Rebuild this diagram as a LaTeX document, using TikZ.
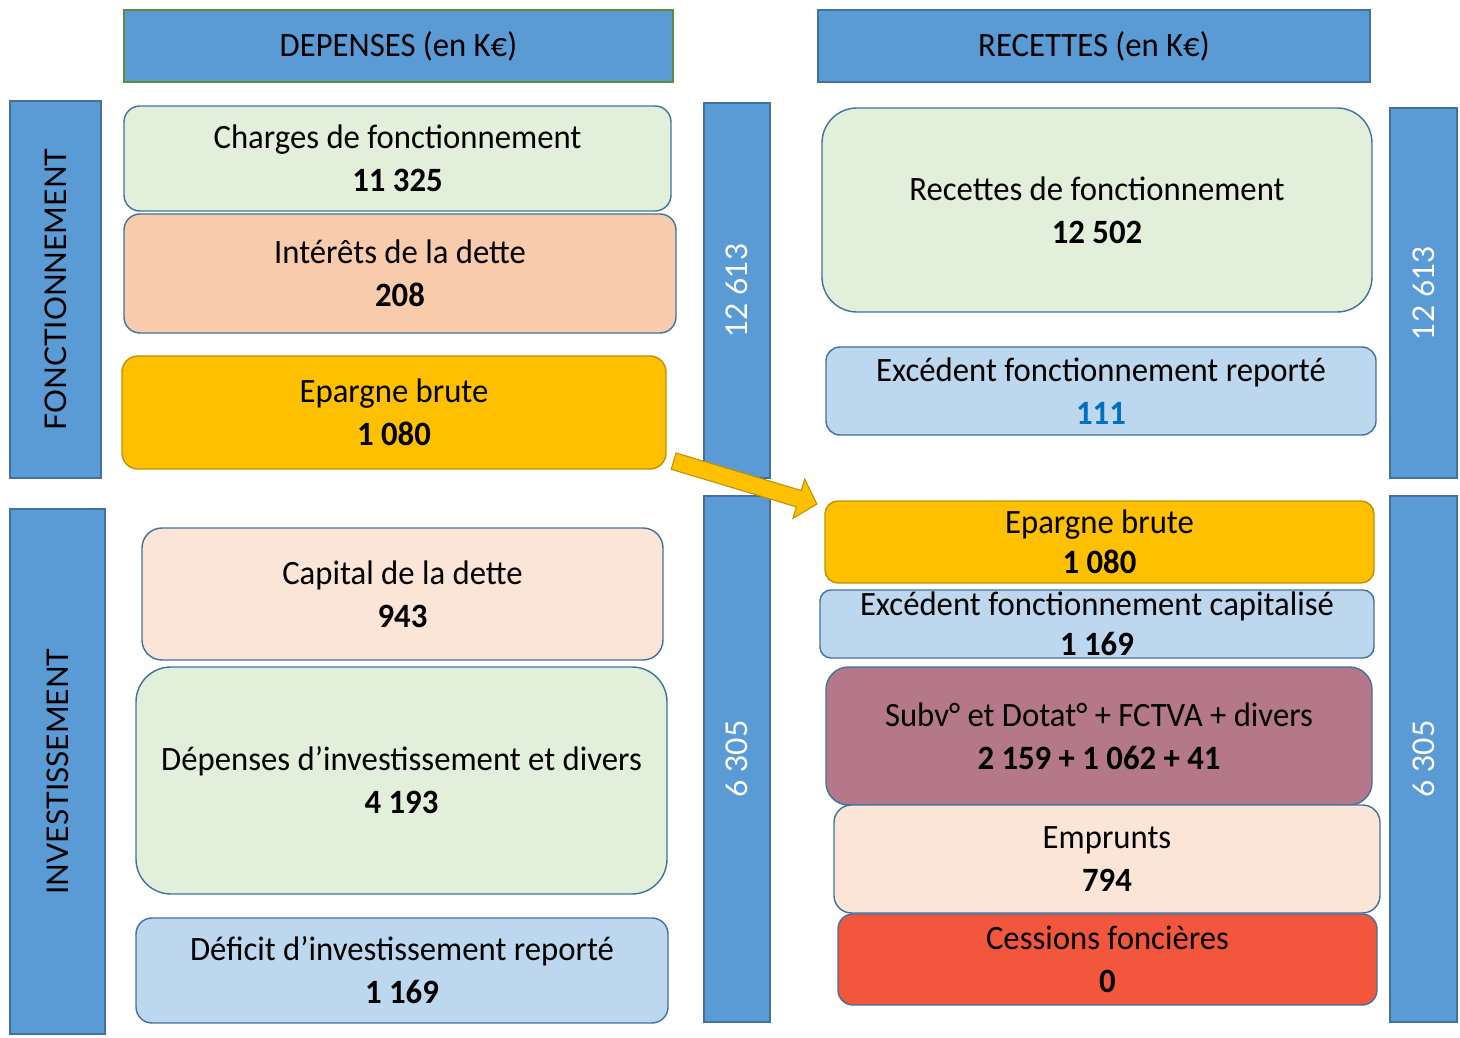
\documentclass[tikz,border=0pt]{standalone}
\usepackage{fontspec}
\setmainfont{Carlito}[FakeStretch=0.96]
\newfontfamily\barfont{Lato}
\usepackage{tikz}
\usetikzlibrary{calc,shapes.arrows}

\definecolor{barblue}{HTML}{5B9BD5}
\definecolor{edgeblue}{HTML}{41719C}
\definecolor{headgreen}{HTML}{5E8E3A}
\definecolor{boxgreen}{HTML}{E2EFDA}
\definecolor{boxsalmon}{HTML}{F8CBAD}
\definecolor{boxpeach}{HTML}{FBE5D6}
\definecolor{boxblue}{HTML}{BDD7EE}
\definecolor{gold}{HTML}{FFC000}
\definecolor{goldedge}{HTML}{BF9000}
\definecolor{mauve}{HTML}{B4788A}
\definecolor{cessred}{HTML}{F2573E}
\definecolor{numblue}{HTML}{0070C0}

\tikzset{
  posteitem/.style={draw=edgeblue, line width=0.8pt, rounded corners=0.32cm,
    align=center, inner sep=0pt, font=\fontsize{19.4}{24.5}\selectfont},
  tightitem/.style={posteitem, font=\fontsize{19.4}{22.5}\selectfont},
  savingitem/.style={posteitem, fill=gold, draw=goldedge},
  headbox/.style={draw=edgeblue, line width=0.8pt, fill=barblue, inner sep=0pt,
    font=\fontsize{19.4}{22}\selectfont},
  sidebar/.style={draw=edgeblue, line width=0.6pt, fill=barblue, inner sep=0pt,
    rotate=90, font=\barfont\fontsize{17}{20}\selectfont},
  totalbar/.style={sidebar, text=white},
  savingarrow/.style={single arrow, fill=gold, draw=goldedge, line width=0.6pt,
    inner sep=0.16cm, single arrow head extend=0.24cm, single arrow tip angle=95}
}

\begin{document}
\begin{tikzpicture}
\useasboundingbox (0,0) rectangle (29.2,-20.76);

% titres
\node[headbox, draw=headgreen, minimum width=10.98cm, minimum height=1.44cm] (depHead) at (7.97,-0.92) {DEPENSES (en K€)};
\node[headbox, minimum width=11.04cm, minimum height=1.44cm] (recHead) at (21.88,-0.92) {RECETTES (en K€)};

% sections
\node[sidebar, minimum width=7.54cm, minimum height=1.82cm] (fonct) at (1.11,-5.79) {FONCTIONNEMENT};
\node[sidebar, minimum width=10.50cm, minimum height=1.90cm] (invest) at (1.15,-15.43) {INVESTISSEMENT};

% totaux
\node[totalbar, minimum width=7.50cm, minimum height=1.32cm] (totFD) at (14.74,-5.81) {12 613};
\node[totalbar, minimum width=10.52cm, minimum height=1.32cm] (totID) at (14.74,-15.18) {6 305};
\node[totalbar, minimum width=7.40cm, minimum height=1.34cm] (totFR) at (28.47,-5.86) {12 613};
\node[totalbar, minimum width=10.52cm, minimum height=1.34cm] (totIR) at (28.47,-15.18) {6 305};

% depenses
\node[posteitem, fill=boxgreen, minimum width=10.94cm, minimum height=2.10cm] (charges) at (7.95,-3.17) {Charges de fonctionnement\\\textbf{11 325}};
\node[posteitem, fill=boxsalmon, minimum width=11.04cm, minimum height=2.38cm] (interets) at (8.00,-5.47) {Intérêts de la dette\\\textbf{208}};
\node[savingitem, minimum width=10.88cm, minimum height=2.26cm] (epargneD) at (7.88,-8.25) {Epargne brute\\\textbf{1 080}};
\node[posteitem, fill=boxpeach, rounded corners=0.4cm, minimum width=10.42cm, minimum height=2.64cm] (capital) at (8.05,-11.88) {Capital de la dette\\\textbf{943}};
\node[posteitem, fill=boxgreen, rounded corners=0.7cm, minimum width=10.62cm, minimum height=4.54cm] (depinv) at (8.03,-15.61) {Dépenses d’investissement et divers\\\textbf{4 193}};
\node[posteitem, fill=boxblue, minimum width=10.64cm, minimum height=2.10cm] (deficit) at (8.04,-19.41) {Déficit d’investissement reporté\\\textbf{1 169}};

% recettes
\node[posteitem, fill=boxgreen, rounded corners=0.7cm, minimum width=11.00cm, minimum height=4.08cm] (recettes) at (21.94,-4.20) {Recettes de fonctionnement\\\textbf{12 502}};
\node[posteitem, fill=boxblue, rounded corners=0.28cm, minimum width=11.00cm, minimum height=1.76cm] (excRep) at (22.02,-7.82) {Excédent fonctionnement reporté\\\textcolor{numblue}{\textbf{111}}};
\node[savingitem, tightitem, fill=gold, draw=goldedge, rounded corners=0.26cm, minimum width=10.98cm, minimum height=1.64cm] (epargneR) at (21.99,-10.84) {Epargne brute\\\textbf{1 080}};
\node[tightitem, fill=boxblue, rounded corners=0.22cm, minimum width=11.08cm, minimum height=1.36cm] (excCap) at (21.94,-12.48) {Excédent fonctionnement capitalisé\\\textbf{1 169}};
\node[posteitem, fill=mauve, rounded corners=0.45cm, minimum width=10.92cm, minimum height=2.76cm] (subv) at (21.98,-14.72) {Subv° et Dotat° + FCTVA + divers\\\textbf{2 159 + 1 062 + 41}};
\node[posteitem, fill=boxpeach, rounded corners=0.35cm, minimum width=10.92cm, minimum height=2.16cm] (emprunts) at (22.14,-17.18) {Emprunts\\\textbf{794}};
\node[posteitem, fill=cessred, rounded corners=0.3cm, minimum width=10.78cm, minimum height=1.82cm] (cessions) at (22.15,-19.19) {Cessions foncières\\\textbf{0}};

% report de l'epargne brute
\coordinate (flowS) at (13.40,-9.20);
\coordinate (flowE) at (16.26,-10.06);
\node[savingarrow, rotate=-16.7, minimum height=2.99cm] (flow) at ($(flowS)!0.5!(flowE)$) {};
\end{tikzpicture}
\end{document}
